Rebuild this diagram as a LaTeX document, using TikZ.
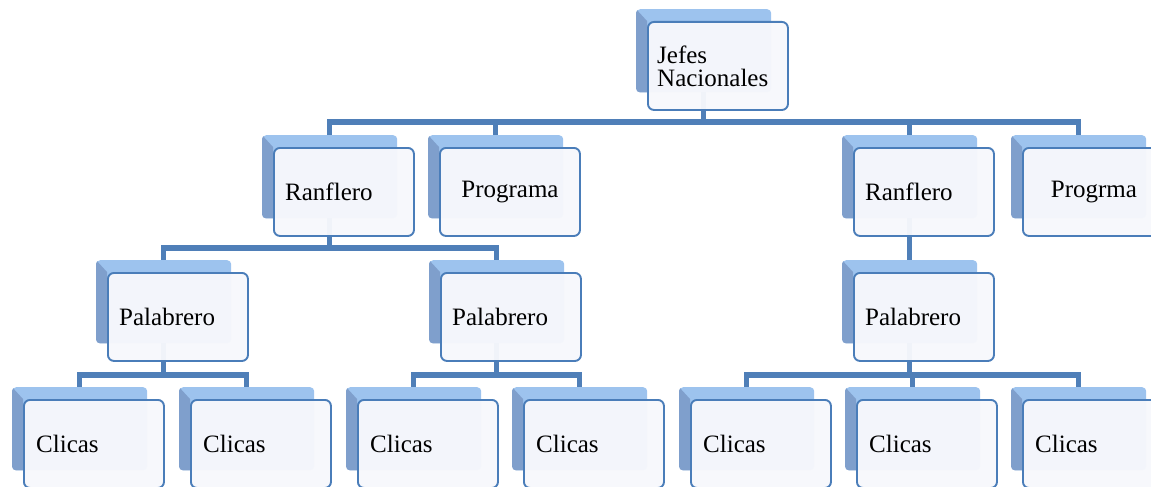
\documentclass[tikz,border=0pt]{standalone}
\usepackage{fontspec}
\setmainfont{Liberation Serif}
\usetikzlibrary{backgrounds}
\definecolor{conncol}{HTML}{4F7FB8}
\definecolor{frontdraw}{HTML}{4A7DB9}
\definecolor{frontfill}{HTML}{F7F8FC}
\definecolor{backtop}{HTML}{9DC3EE}
\definecolor{backside}{HTML}{7F9FCC}
\tikzset{
  frontbox/.style={draw=frontdraw, line width=1.9pt, fill=frontfill, fill opacity=0.96,
    rounded corners=6pt, minimum width=140pt, minimum height=88pt, inner sep=0pt, anchor=north west},
  backbox/.style={fill=backtop, rounded corners=4pt, minimum width=135pt, minimum height=83pt,
    inner sep=0pt, anchor=north west},
  conn/.style={draw=conncol, line width=5.5pt},
  lbl/.style={font=\fontsize{25}{23}\selectfont, inner sep=0pt, anchor=west, text=black, align=left},
  clbl/.style={font=\fontsize{25}{23}\selectfont, inner sep=0pt, text=black},
}
\newcommand\orgbox[3]{%
  \node[backbox] (#1-b) at (#2-11,#3-12) {};
  \begin{scope}
    \clip[rounded corners=4pt] (#1-b.north west) rectangle (#1-b.south east);
    \fill[backside] (#1-b.north west) -- (#2,#3) -- (#2,#3+83) -- (#1-b.south west) -- cycle;
  \end{scope}
  \node[frontbox] (#1) at (#2,#3) {};
}
\begin{document}
\begin{tikzpicture}[x=1pt,y=-1pt]
\useasboundingbox (0,0) rectangle (1151,487);
\clip (0,0) rectangle (1151,487);
% level 1
\orgbox{jefes}{647}{21}
% level 2
\orgbox{ranA}{273}{147}
\orgbox{progA}{439}{147}
\orgbox{ranB}{853}{147}
\orgbox{progB}{1022}{147}
% level 3
\orgbox{palA}{107}{272}
\orgbox{palB}{440}{272}
\orgbox{palC}{853}{272}
% level 4
\orgbox{cA}{23}{399}
\orgbox{cB}{190}{399}
\orgbox{cC}{357}{399}
\orgbox{cD}{523}{399}
\orgbox{cE}{690}{399}
\orgbox{cF}{856}{399}
\orgbox{cG}{1022}{399}
% labels
\node[lbl] (tjefes) at ([xshift=10pt]jefes.west) {Jefes\\Nacionales};
\node[lbl] (tranA) at ([xshift=12pt]ranA.west) {Ranflero};
\node[clbl] (tprogA) at (progA.center) {Programa};
\node[lbl] (tranB) at ([xshift=12pt]ranB.west) {Ranflero};
\node[clbl] (tprogB) at ([xshift=1pt]progB.center) {Progrma};
\node[lbl] (tpalA) at ([xshift=12pt]palA.west) {Palabrero};
\node[lbl] (tpalB) at ([xshift=12pt]palB.west) {Palabrero};
\node[lbl] (tpalC) at ([xshift=12pt]palC.west) {Palabrero};
\foreach \n in {cA,cB,cC,cD,cE,cF,cG}{
  \node[lbl] (t\n) at ([xshift=13pt]\n.west) {Clicas};
}
% connectors
\coordinate (bar1) at (0,122);
\coordinate (bar2) at (0,248);
\coordinate (bar3) at (0,375);
\begin{pgfonlayer}{background}
\foreach \c in {ranA,progA,ranB,progB}{
  \draw[conn] (jefes-b.center) -- (jefes-b.center |- bar1) -| (\c-b.north);
}
\foreach \c in {palA,palB}{
  \draw[conn] (ranA-b.center) -- (ranA-b.center |- bar2) -| (\c-b.north);
}
\draw[conn] (ranB-b.center) -- (palC-b.north);
\foreach \c in {cA,cB}{
  \draw[conn] (palA-b.center) -- (palA-b.center |- bar3) -| (\c-b.north);
}
\foreach \c in {cC,cD}{
  \draw[conn] (palB-b.center) -- (palB-b.center |- bar3) -| (\c-b.north);
}
\foreach \c in {cE,cF,cG}{
  \draw[conn] (palC-b.center) -- (palC-b.center |- bar3) -| (\c-b.north);
}
\end{pgfonlayer}
\end{tikzpicture}
\end{document}
